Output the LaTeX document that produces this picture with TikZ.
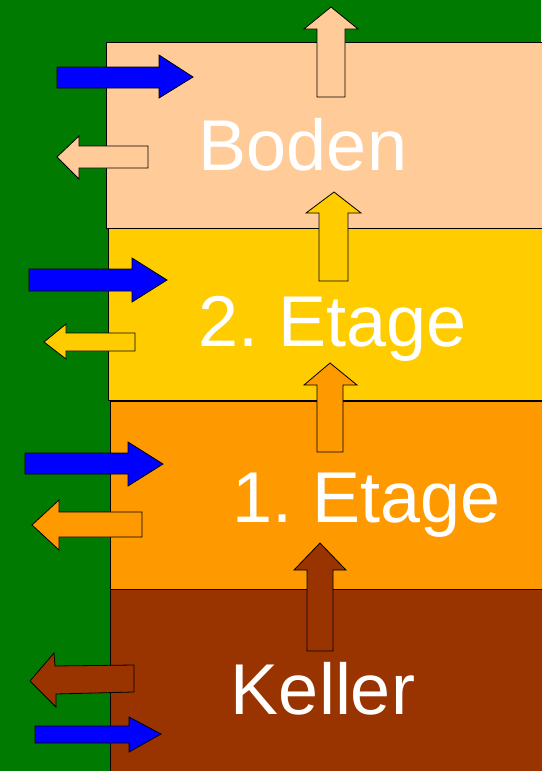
\documentclass[tikz,border=0pt]{standalone}
\usepackage{fontspec}
\setmainfont{Liberation Sans}
\definecolor{wall}{HTML}{007A00}
\definecolor{boden}{HTML}{FFCC99}
\definecolor{etagezwei}{HTML}{FFCC00}
\definecolor{etageeins}{HTML}{FF9900}
\definecolor{keller}{HTML}{993300}
\definecolor{flow}{HTML}{0000FF}
\tikzset{
  layer/.style={draw=black, line width=0.8pt},
  blockarrow/.style={draw=black, line width=0.8pt, line join=miter},
  lbl/.style={text=white, inner sep=0pt, anchor=base, font=\fontsize{72}{72}\selectfont}
}
\begin{document}
\begin{tikzpicture}[x=1pt, y=-1pt]
  % background wall
  \fill[wall] (0,0) rectangle (541,771);
  \useasboundingbox (0,0) rectangle (541,771);

  % storeys
  \draw[layer, fill=boden]     (106,42)  rectangle (545,228);
  \draw[layer, fill=etagezwei] (108,228) rectangle (545,400);
  \draw[layer, fill=etageeins] (110,401) rectangle (545,589);
  \draw[layer, fill=keller]    (110,589) rectangle (545,775);

  % labels
  \node[lbl] (tboden)  at (303,170) {Boden};
  \node[lbl] (tzwei)   at (333,346) {2.\kern20pt Etage};
  \node[lbl] (teins)   at (367,522) {1.\kern20pt Etage};
  \node[lbl] (tkeller) at (323,714) {Keller};

  % --- Boden ---
  % heat rising through the roof
  \draw[blockarrow, fill=boden] (317,97) -- (317,29) -- (304,29) -- (331,7) -- (358,29) -- (345,29) -- (345,97) -- cycle;
  % inflow
  \draw[blockarrow, fill=flow] (57,67) -- (159,67) -- (159,55) -- (193,77) -- (159,98) -- (159,88) -- (57,88) -- cycle;
  % outflow
  \draw[blockarrow, fill=boden] (148,146) -- (79,146) -- (79,136) -- (57,157) -- (79,179) -- (79,168) -- (148,168) -- cycle;

  % --- 2. Etage ---
  \draw[blockarrow, fill=etagezwei] (319,281) -- (319,213) -- (306,213) -- (334,192) -- (361,213) -- (348,213) -- (348,281) -- cycle;
  \draw[blockarrow, fill=flow] (29,269) -- (132,269) -- (132,258) -- (167,280) -- (132,302) -- (132,291) -- (29,291) -- cycle;
  \draw[blockarrow, fill=etagezwei] (135,333) -- (66,333) -- (66,324) -- (44,342) -- (66,359) -- (66,351) -- (135,351) -- cycle;

  % --- 1. Etage ---
  \draw[blockarrow, fill=etageeins] (317,452) -- (317,385) -- (304,385) -- (330,363) -- (357,385) -- (343,385) -- (343,452) -- cycle;
  \draw[blockarrow, fill=flow] (25,453) -- (128,453) -- (128,442) -- (163,464) -- (128,486) -- (128,474) -- (25,474) -- cycle;
  \draw[blockarrow, fill=etageeins] (142,512) -- (59,512) -- (59,500) -- (32,525) -- (59,550) -- (59,537) -- (142,537) -- cycle;

  % --- Keller ---
  \draw[blockarrow, fill=keller] (307,651) -- (307,570) -- (294,570) -- (320,543) -- (346,570) -- (333,570) -- (333,651) -- cycle;
  \draw[blockarrow, fill=keller] (134,665) -- (55,666) -- (54,653) -- (30,681) -- (56,707) -- (56,694) -- (134,692) -- cycle;
  \draw[blockarrow, fill=flow] (35,726) -- (129,726) -- (129,717) -- (161,734) -- (129,752) -- (129,743) -- (35,743) -- cycle;
\end{tikzpicture}
\end{document}
